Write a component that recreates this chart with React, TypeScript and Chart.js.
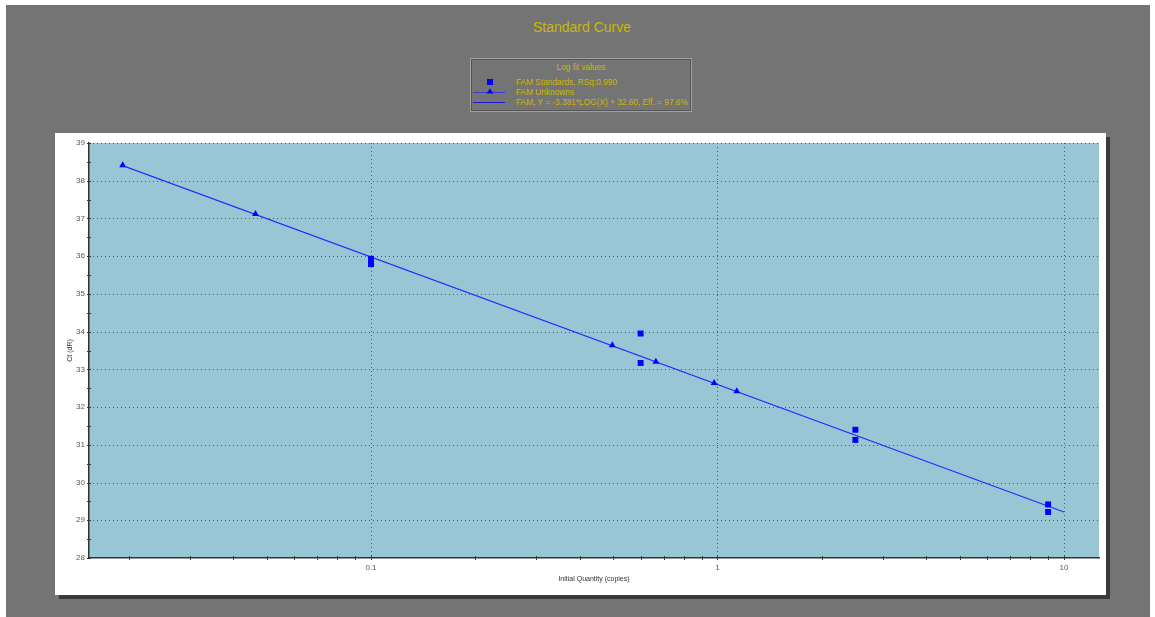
import React, { useEffect, useRef } from "react";
import { Chart, registerables } from "chart.js";

Chart.register(...registerables);

// Standards: known quantities and measured Ct
const stdQty = [0.1, 0.1, 0.6, 0.6, 2.5, 2.5, 9, 9];
const stdCt = [35.93, 35.79, 33.95, 33.17, 31.4, 31.13, 29.42, 29.22];

// Unknowns: quantities read back from the curve
const unkQty = [0.0192, 0.0464, 0.497, 0.664, 0.978, 1.137];
const unkCt = [38.41, 37.12, 33.64, 33.2, 32.64, 32.42];

// Log fit line end points
const fitQty = [0.0192, 10];
const fitCt = [38.4, 29.22];

// Axis settings
const xMin = 0.01535;
const xMax = 12.62;
const xLabelTicks = [0.1, 1, 10];
const xMinorTicks = [
  0.02, 0.03, 0.04, 0.05, 0.06, 0.07, 0.08, 0.09,
  0.2, 0.3, 0.4, 0.5, 0.6, 0.7, 0.8, 0.9,
  2, 3, 4, 5, 6, 7, 8, 9,
];
const yMin = 28;
const yMax = 39;

const legendTitle = "Log fit values";
const legendItems = [
  "FAM Standards, RSq:0.990",
  "FAM Unknowns",
  "FAM, Y = -3.381*LOG(X) + 32.60, Eff. = 97.6%",
];

const FONT = "'Liberation Sans', Arial, sans-serif";
const PLOT_BG = "#99c6d5";
const GRID = "#4d5c66";
const BLUE = "#0000ff";
const LINE_BLUE = "#2b2bff";
const GOLD = "#cdb800";

const toPts = (xs: number[], ys: number[]) => xs.map((x, i) => ({ x, y: ys[i] }));

const plotDecor = {
  id: "plotDecor",
  beforeDraw(chart: any) {
    const { ctx, chartArea: a } = chart;
    ctx.save();
    ctx.fillStyle = PLOT_BG;
    ctx.fillRect(a.left, a.top, a.right - a.left, a.bottom - a.top);
    ctx.restore();
  },
  beforeDatasetsDraw(chart: any) {
    const { ctx, chartArea: a, scales } = chart;
    const xs = scales.x;
    const ys = scales.y;
    ctx.save();
    ctx.strokeStyle = GRID;
    ctx.lineWidth = 1;
    ctx.setLineDash([1, 3]);
    for (let v = yMin + 1; v <= yMax; v++) {
      const py = Math.round(ys.getPixelForValue(v)) + 0.5;
      ctx.beginPath();
      ctx.moveTo(a.left, py);
      ctx.lineTo(a.right, py);
      ctx.stroke();
    }
    xLabelTicks.forEach((v) => {
      const px = Math.round(xs.getPixelForValue(v)) + 0.5;
      ctx.beginPath();
      ctx.moveTo(px, a.top);
      ctx.lineTo(px, a.bottom);
      ctx.stroke();
    });
    ctx.restore();
  },
  afterDraw(chart: any) {
    const { ctx, chartArea: a, scales } = chart;
    const xs = scales.x;
    const ys = scales.y;
    ctx.save();
    ctx.strokeStyle = "#3a3a3a";
    ctx.lineWidth = 1;
    // y tick marks (integer and half steps)
    for (let v = yMin; v <= yMax; v += 0.5) {
      const py = Math.round(ys.getPixelForValue(v)) + 0.5;
      ctx.beginPath();
      ctx.moveTo(a.left - 2, py);
      ctx.lineTo(a.left + 2, py);
      ctx.stroke();
    }
    // x tick marks
    [...xMinorTicks, ...xLabelTicks].forEach((v) => {
      const px = Math.round(xs.getPixelForValue(v)) + 0.5;
      ctx.beginPath();
      ctx.moveTo(px, a.bottom - 2);
      ctx.lineTo(px, a.bottom + 2);
      ctx.stroke();
    });
    // axis titles
    ctx.fillStyle = "#333333";
    ctx.font = `7px ${FONT}`;
    ctx.textAlign = "center";
    ctx.textBaseline = "middle";
    ctx.fillText("Initial Quantity (copies)", (a.left + a.right) / 2, a.bottom + 21);
    ctx.translate(a.left - 19, (a.top + a.bottom) / 2);
    ctx.rotate(-Math.PI / 2);
    ctx.fillText("Ct (dR)", 0, 0);
    ctx.restore();
  },
};

function StandardCurve() {
  const ref = useRef<HTMLCanvasElement | null>(null);

  useEffect(() => {
    if (!ref.current) return;
    const chart = new Chart(ref.current, {
      type: "scatter",
      data: {
        datasets: [
          {
            label: legendItems[2],
            data: toPts(fitQty, fitCt),
            showLine: true,
            borderColor: LINE_BLUE,
            borderWidth: 1.2,
            pointRadius: 0,
            order: 3,
          },
          {
            label: legendItems[1],
            data: toPts(unkQty, unkCt),
            pointStyle: "triangle",
            pointRadius: 4,
            backgroundColor: BLUE,
            borderColor: BLUE,
            borderWidth: 0,
            order: 2,
          },
          {
            label: legendItems[0],
            data: toPts(stdQty, stdCt),
            pointStyle: "rect",
            pointRadius: 4.2,
            backgroundColor: BLUE,
            borderColor: BLUE,
            borderWidth: 0,
            order: 1,
          },
        ],
      },
      options: {
        responsive: false,
        animation: false,
        layout: { padding: { left: 0, top: 10, right: 7, bottom: 0 } },
        plugins: {
          legend: { display: false },
          title: { display: false },
          tooltip: { enabled: false },
        },
        scales: {
          x: {
            type: "logarithmic",
            min: xMin,
            max: xMax,
            afterBuildTicks(scale: any) {
              scale.ticks = xLabelTicks.map((value) => ({ value }));
            },
            afterFit(scale: any) {
              scale.height = 37;
            },
            grid: { display: false, drawTicks: false },
            border: { display: true, color: "#333333", width: 1.5 },
            ticks: {
              padding: 5,
              color: "#5a5a5a",
              font: { family: FONT, size: 8 },
              callback: (v: any) => String(v),
              autoSkip: false,
              maxRotation: 0,
            },
          },
          y: {
            min: yMin,
            max: yMax,
            afterFit(scale: any) {
              scale.width = 34;
            },
            grid: { display: false, drawTicks: false },
            border: { display: true, color: "#333333", width: 1.5 },
            ticks: {
              stepSize: 1,
              padding: 4,
              color: "#5a5a5a",
              font: { family: FONT, size: 8 },
            },
          },
        },
      },
      plugins: [plotDecor],
    });
    return () => chart.destroy();
  }, []);

  return <canvas ref={ref} width={1051} height={462} style={{ display: "block" }} />;
}

function LegendBox() {
  const row: React.CSSProperties = {
    position: "absolute",
    left: 0,
    height: 10,
    display: "flex",
    alignItems: "center",
    whiteSpace: "nowrap",
  };
  const text: React.CSSProperties = { position: "absolute", left: 45 };
  return (
    <div
      style={{
        position: "absolute",
        left: 470,
        top: 58,
        width: 220,
        height: 52,
        border: "1px solid #a0a0a0",
        boxShadow: "inset 0 0 0 1px #555555",
        background: "#747474",
        color: GOLD,
        fontFamily: FONT,
        fontSize: 8.3,
      }}
    >
      <div style={{ position: "absolute", left: 0, right: 0, top: 3, textAlign: "center" }}>
        {legendTitle}
      </div>
      <div style={{ ...row, top: 18 }}>
        <svg width={36} height={10} style={{ position: "absolute", left: 1 }}>
          <rect x={15} y={2} width={6} height={6} fill={BLUE} />
        </svg>
        <span style={text}>{legendItems[0]}</span>
      </div>
      <div style={{ ...row, top: 28 }}>
        <svg width={36} height={10} style={{ position: "absolute", left: 1 }}>
          <line x1={1} y1={5.5} x2={33} y2={5.5} stroke="#3a3ad8" strokeWidth={1} />
          <polygon points="18,1.5 21.5,6.5 14.5,6.5" fill={BLUE} />
        </svg>
        <span style={text}>{legendItems[1]}</span>
      </div>
      <div style={{ ...row, top: 38 }}>
        <svg width={36} height={10} style={{ position: "absolute", left: 1 }}>
          <line x1={1} y1={5.5} x2={33} y2={5.5} stroke="#1a1ad0" strokeWidth={1} />
        </svg>
        <span style={text}>{legendItems[2]}</span>
      </div>
    </div>
  );
}

export default function App() {
  return (
    <div style={{ position: "absolute", left: 0, top: 0, width: 1155, height: 617, background: "#ffffff" }}>
      <div style={{ position: "absolute", left: 6, top: 5, width: 1144, height: 612, background: "#747474" }} />
      <div
        style={{
          position: "absolute",
          left: 0,
          width: 1164,
          top: 19,
          textAlign: "center",
          fontFamily: FONT,
          fontSize: 14,
          color: GOLD,
        }}
      >
        Standard Curve
      </div>
      <LegendBox />
      <div
        style={{
          position: "absolute",
          left: 55,
          top: 133,
          width: 1051,
          height: 462,
          background: "#ffffff",
          boxShadow: "4px 4px 0 #3a3a3a",
        }}
      >
        <StandardCurve />
      </div>
    </div>
  );
}
